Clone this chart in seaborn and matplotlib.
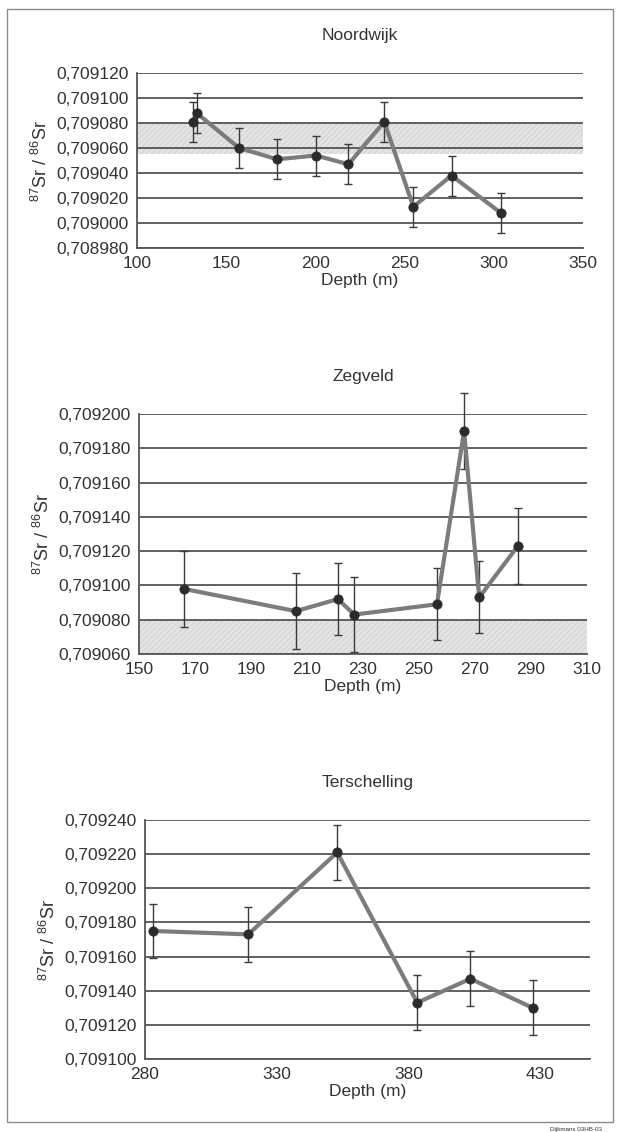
import numpy as np
import pandas as pd
import matplotlib
matplotlib.use('Agg')
import matplotlib.pyplot as plt
from matplotlib.ticker import FuncFormatter
from matplotlib.patches import Rectangle
import seaborn as sns

sns.set_style('white')
plt.rcParams['font.family'] = ['Liberation Sans', 'DejaVu Sans']
plt.rcParams['mathtext.fontset'] = 'custom'
plt.rcParams['mathtext.rm'] = 'Liberation Sans'

# Noordwijk
noord_depth = [131.4, 133.4, 157.2, 178.6, 200.3, 218.5, 238.6, 254.9, 276.3, 304.0]
noord_ratio = [0.709081, 0.709088, 0.709060, 0.709051, 0.709054, 0.709047,
               0.709081, 0.709013, 0.709038, 0.709008]
noord_err = [0.000016] * 10
noord_band = (0.709055, 0.709080)

# Zegveld
zeg_depth = [166.0, 206.0, 221.0, 226.9, 256.4, 266.1, 271.5, 285.3]
zeg_ratio = [0.709098, 0.709085, 0.709092, 0.709083, 0.709089, 0.709190,
             0.709093, 0.709123]
zeg_err = [0.000022, 0.000022, 0.000021, 0.000022, 0.000021, 0.000022,
           0.000021, 0.000022]
zeg_band = (0.709060, 0.709080)

# Terschelling
ter_depth = [282.9, 319.2, 353.0, 383.4, 403.6, 427.2]
ter_ratio = [0.709175, 0.709173, 0.709221, 0.709133, 0.709147, 0.709130]
ter_err = [0.000016] * 6

W, H = 621, 1132
fig = plt.figure(figsize=(W / 100, H / 100), dpi=100)

text_col = '#333333'
grid_col = '#555555'
line_col = '#7c7c7c'
dot_col = '#2b2b2b'


def make_axes(left, right, top, bottom):
    return fig.add_axes([left / W, 1 - bottom / H, (right - left) / W, (bottom - top) / H])


def panel(ax, title, depth, ratio, err, xlim, xticks, ylim, yticks, band=None):
    df = pd.DataFrame({'Depth': depth, 'Ratio': ratio})
    if band is not None:
        ax.axhspan(band[0], band[1], facecolor='#e4e4e4', edgecolor='#d6d6d6',
                   hatch='//////', linewidth=0, zorder=0)
    for yt in yticks:
        ax.axhline(yt, color=grid_col, linewidth=1.3, zorder=1)
    eb = ax.errorbar(depth, ratio, yerr=err, fmt='none', ecolor='#3a3a3a',
                     elinewidth=1.0, capsize=3, capthick=1.0, zorder=2)
    for art in eb.lines[1] + eb.lines[2]:
        art.set_clip_on(False)
    sns.lineplot(data=df, x='Depth', y='Ratio', ax=ax, sort=False, color=line_col,
                 linewidth=3, zorder=3)
    sns.scatterplot(data=df, x='Depth', y='Ratio', ax=ax, color=dot_col, s=45,
                    edgecolor=dot_col, zorder=4)
    ax.set_xlim(*xlim)
    ax.set_ylim(*ylim)
    ax.set_xticks(xticks)
    ax.set_yticks(yticks)
    ax.yaxis.set_major_formatter(FuncFormatter(lambda v, p: f'{v:.6f}'.replace('.', ',')))
    for s in ['top', 'right']:
        ax.spines[s].set_visible(False)
    ax.spines['left'].set_color(grid_col)
    ax.spines['bottom'].set_color(grid_col)
    ax.spines['left'].set_linewidth(1.3)
    ax.spines['bottom'].set_linewidth(1.3)
    ax.tick_params(axis='both', direction='out', length=5, width=1.1, color=grid_col,
                   labelsize=12.5, labelcolor=text_col, pad=1)
    ax.set_title(title, fontsize=12.5, color=text_col, pad=24)
    ax.set_xlabel('Depth (m)', fontsize=12.5, color=text_col, labelpad=1)
    ax.set_ylabel(r'$^{87}$Sr / $^{86}$Sr', fontsize=13, color=text_col, labelpad=4)
    ax.grid(False)


ax1 = make_axes(137, 583, 73, 248)
panel(ax1, 'Noordwijk', noord_depth, noord_ratio, noord_err, (100, 350),
      [100, 150, 200, 250, 300, 350], (0.708980, 0.709120),
      np.arange(0.708980, 0.7091201, 0.00002), band=noord_band)

ax2 = make_axes(139, 587, 414, 654)
panel(ax2, 'Zegveld', zeg_depth, zeg_ratio, zeg_err, (150, 310),
      [150, 170, 190, 210, 230, 250, 270, 290, 310], (0.709060, 0.709200),
      np.arange(0.709060, 0.7092001, 0.00002), band=zeg_band)

ax3 = make_axes(145, 590, 820, 1059)
panel(ax3, 'Terschelling', ter_depth, ter_ratio, ter_err, (280, 449),
      [280, 330, 380, 430], (0.709100, 0.709240),
      np.arange(0.709100, 0.7092401, 0.00002))

fig.patches.append(Rectangle((7 / W, 1 - 1122 / H), (613 - 7) / W, (1122 - 9) / H,
                             transform=fig.transFigure, fill=False,
                             edgecolor='#8a8a8a', linewidth=1.0))
fig.text(550 / W, 1 - 1129 / H, 'Dijkmans 03HB-03', fontsize=4.5, color=text_col,
         ha='left', va='center')

fig.savefig('out.png', dpi=100, facecolor='white')
